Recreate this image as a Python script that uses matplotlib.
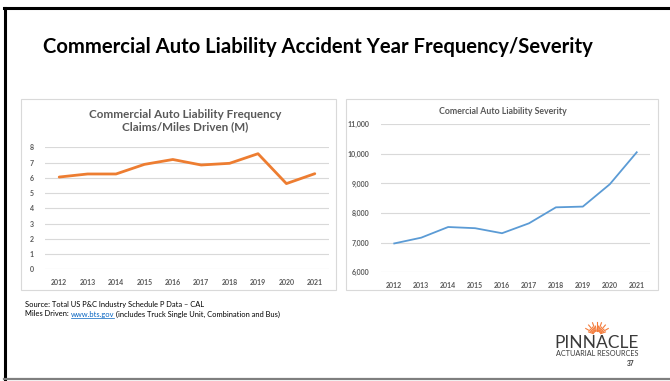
import matplotlib.pyplot as plt
from matplotlib.patches import Rectangle
from matplotlib.lines import Line2D
from matplotlib.ticker import FuncFormatter
import numpy as np

plt.rcParams['font.family'] = ['Lato', 'DejaVu Sans']

years = [2012, 2013, 2014, 2015, 2016, 2017, 2018, 2019, 2020, 2021]
frequency = [6.05, 6.25, 6.25, 6.88, 7.2, 6.84, 6.95, 7.58, 5.62, 6.27]
severity = [6975, 7170, 7530, 7490, 7320, 7655, 8195, 8220, 8975, 10055]

W, H = 670, 381
GRAY = '#595959'
GRID = '#d9d9d9'


def fx(px):
    return px / W


def fy(py):
    return 1 - py / H


fig = plt.figure(figsize=(6.7, 3.81), dpi=100)
fig.patch.set_facecolor('white')

# slide frame
fig.add_artist(Line2D([fx(5), fx(5)], [fy(8), fy(379)], color='black', lw=2.2))
fig.add_artist(Line2D([fx(4), 1], [fy(8), fy(8)], color='black', lw=2.2))
fig.add_artist(Line2D([fx(4), 1], [fy(379), fy(379)], color='#7f7f7f', lw=1.6))

fig.text(fx(43), fy(47), 'Commercial Auto Liability Accident Year Frequency/Severity',
         fontsize=14.6, fontweight='bold', color='black', va='center', ha='left')

# chart panels (behind the axes)
for x0, x1 in [(21, 336), (346, 658)]:
    fig.add_artist(Rectangle((fx(x0), fy(290)), fx(x1 - x0), (290 - 99) / H,
                             facecolor='white', edgecolor=GRID, lw=0.8, zorder=-5))

# frequency chart
ax1 = fig.add_axes([fx(45), fy(269.3), fx(284), (269.3 - 147.3) / H])
ax1.plot(years, frequency, color='#ED7D31', lw=2.0, solid_capstyle='round')
ax1.set_xlim(2011.5, 2021.5)
ax1.set_ylim(0, 8)
ax1.set_yticks(range(0, 9))
ax1.set_xticks(years)
fig.text(fx(185), fy(121), 'Commercial Auto Liability Frequency\nClaims/Miles Driven (M)',
         fontsize=8.4, fontweight='bold', color=GRAY, ha='center', va='center',
         linespacing=1.15)

# severity chart
ax2 = fig.add_axes([fx(380.8), fy(272.3), fx(269.4), (272.3 - 124.3) / H])
ax2.plot(years, severity, color='#5B9BD5', lw=1.3)
ax2.set_xlim(2011.5, 2021.5)
ax2.set_ylim(6000, 11000)
ax2.set_yticks(range(6000, 11001, 1000))
ax2.set_xticks(years)
ax2.yaxis.set_major_formatter(FuncFormatter(lambda v, p: f'{int(v):,}'))
fig.text(fx(503), fy(111), 'Comercial Auto Liability Severity',
         fontsize=6.3, fontweight='bold', color=GRAY, ha='center', va='center')

for ax in (ax1, ax2):
    ax.set_facecolor('none')
    ax.set_zorder(2)
    for s in ax.spines.values():
        s.set_visible(False)
    ax.grid(axis='y', color=GRID, lw=0.8)
    ax.set_axisbelow(True)
    ax.tick_params(length=0, labelsize=5, labelcolor=GRAY)
    for lab in ax.get_xticklabels() + ax.get_yticklabels():
        lab.set_fontweight('bold')
ax1.tick_params(axis='x', pad=7)
ax1.tick_params(axis='y', pad=8)
ax2.tick_params(axis='x', pad=7)
ax2.tick_params(axis='y', pad=8)

# source notes
fig.text(fx(25), fy(305), 'Source: Total US P&C Industry Schedule P Data \u2013 CAL',
         fontsize=5.4, color='black', va='center')
t1 = fig.text(fx(25), fy(314), 'Miles Driven: ', fontsize=5.4, color='black', va='center')
t2 = fig.text(0, 0, 'www.bts.gov', fontsize=5.4, color='#0563C1', va='center')
t3 = fig.text(0, 0, ' (includes Truck Single Unit, Combination and Bus)',
              fontsize=5.4, color='black', va='center')

fig.canvas.draw()
r = fig.canvas.get_renderer()
bb1 = t1.get_window_extent(r)
t2.set_position((bb1.x1 / fig.bbox.width, fy(314)))
bb2 = t2.get_window_extent(r)
t3.set_position((bb2.x1 / fig.bbox.width, fy(314)))
fig.add_artist(Line2D([bb2.x0 / fig.bbox.width, bb2.x1 / fig.bbox.width],
                      [fy(317.5), fy(317.5)], color='#0563C1', lw=0.5))

# logo
cx, cy = 597, 335
for i, ang in enumerate(np.arange(20, 161, 10)):
    a = np.radians(ang)
    r1 = 13 if i % 2 else 9
    fig.add_artist(Line2D([fx(cx + 4 * np.cos(a)), fx(cx + r1 * np.cos(a))],
                          [fy(cy - 4 * np.sin(a)), fy(cy - r1 * np.sin(a))],
                          color='#F47B3A', lw=0.8))
fig.text(fx(597), fy(343), 'PINNACLE', fontsize=12.5, color='#3a3a3a',
         ha='center', va='center')
fig.text(fx(597), fy(354), 'ACTUARIAL RESOURCES', fontsize=5.2, color='#3a3a3a',
         ha='center', va='center')
fig.text(fx(631), fy(363), '37', fontsize=4.8, color='#3a3a3a', fontweight='bold',
         ha='center', va='center')

fig.savefig('out.png', dpi=100)
